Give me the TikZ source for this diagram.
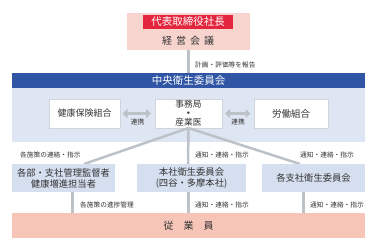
\documentclass[tikz,border=0pt]{standalone}
\usepackage{fontspec}
\setmainfont{Noto Sans CJK JP}
\usetikzlibrary{arrows.meta,calc}
\definecolor{pinkbox}{HTML}{F8D4CF}
\definecolor{redband}{HTML}{E3263D}
\definecolor{bluebar}{HTML}{2F55A4}
\definecolor{lightblue}{HTML}{DFE6F3}
\definecolor{lowbox}{HTML}{D6DFEF}
\definecolor{empbar}{HTML}{F6C5B8}
\definecolor{linegray}{HTML}{BDC1C8}
\definecolor{txt}{HTML}{333333}
\tikzset{
  box/.style={rectangle, inner sep=0pt, outer sep=0pt, text=txt, align=center},
  whitebox/.style={box, fill=white, draw=linegray!70, line width=0.5pt, minimum height=29pt},
  lowerbox/.style={box, fill=lowbox, minimum height=28pt, minimum width=103pt, font=\fontsize{9.3}{11}\selectfont},
  conn/.style={draw=linegray, line width=3pt},
  small/.style={text=txt, inner sep=0pt, font=\fontsize{6.7}{7}\selectfont, anchor=west},
  dblarrow/.style={draw=linegray, line width=3pt, {Triangle[width=9pt,length=5pt]}-{Triangle[width=9pt,length=5pt]}}
}
\begin{document}
\begin{tikzpicture}[x=1pt,y=-1pt]
\useasboundingbox (0,0) rectangle (378,250);
% top
\node[box, fill=pinkbox, minimum width=123pt, minimum height=37pt] (exec) at (188.5,31.5) {};
\node[box, fill=redband, minimum width=90pt, minimum height=14.5pt, text=white, font=\fontsize{10.5}{12}\selectfont] (pres) at (188,21.75) {代表取締役社長};
\node[box, font=\fontsize{10}{12}\selectfont] (keiei) at (188,41) {経\hspace{4pt}営\hspace{4pt}会\hspace{4pt}議};
% central committee
\node[box, fill=lightblue, minimum width=353pt, minimum height=54pt] (region) at (188.5,115) {};
\node[box, fill=bluebar, minimum width=353pt, minimum height=15pt, text=white, font=\fontsize{10.5}{12}\selectfont] (central) at (188.5,80.5) {中央衛生委員会};
\draw[conn] (exec.south -| 188,0) -- (central.north -| 188,0);
\node[small] (lblreport) at (195,65) {計画・評価等を報告};
% inner boxes
\node[whitebox, minimum width=71pt, font=\fontsize{9}{11}\selectfont] (kenpo) at (84.5,113.5) {健康保険組合};
\node[whitebox, minimum width=67pt, font=\fontsize{8.7}{9}\selectfont] (jimu) at (188.5,113.5) {事務局\\{\bfseries ・}\\産業医};
\node[whitebox, minimum width=74pt, font=\fontsize{9.5}{11}\selectfont] (roudou) at (291,113.5) {労働組合};
\draw[dblarrow, shorten <=2.5pt, shorten >=4pt] (kenpo.east) -- (jimu.west);
\draw[dblarrow, shorten <=3pt, shorten >=3.5pt] (jimu.east) -- (roudou.west);
\node[small, anchor=center] (rk1) at (137.5,122) {連携};
\node[small, anchor=center] (rk2) at (238,122) {連携};
% fan lines
\coordinate (fl) at (84,164);
\coordinate (fc) at (188,164);
\coordinate (fr) at (300,164);
\draw[draw=linegray, line width=2.5pt] (jimu.south) -- (fl);
\draw[draw=linegray, line width=2.5pt] (jimu.south) -- (fc);
\draw[draw=linegray, line width=2.5pt] (jimu.south) -- (fr);
\node[small] (l1) at (20,155) {各施策の連絡・指示};
\node[small] (l2) at (195,155) {通知・連絡・指示};
\node[small] (l3) at (300,155) {通知・連絡・指示};
% lower boxes
\node[lowerbox] (ll) at (63.5,178) {各部・支社管理監督者\\健康増進担当者};
\node[lowerbox, minimum width=109pt] (lc) at (191.5,178) {本社衛生委員会\\(四谷・多摩本社)};
\node[lowerbox] (lr) at (313.5,178) {各支社衛生委員会};
% employees
\node[box, fill=empbar, minimum width=353pt, minimum height=25pt, font=\fontsize{10}{12}\selectfont] (emp) at (188.5,225.5) {従\hspace{10pt}業\hspace{10pt}員};
\coordinate (bl) at (72,192);
\coordinate (bc) at (188,192);
\coordinate (br) at (303,192);
\draw[conn] (bl) -- (bl |- emp.north);
\draw[conn] (bc) -- (bc |- emp.north);
\draw[conn] (br) -- (br |- emp.north);
\node[small] (m1) at (80,205) {各施策の進捗管理};
\node[small] (m2) at (195,205) {通知・連絡・指示};
\node[small] (m3) at (310,205) {通知・連絡・指示};
\end{tikzpicture}
\end{document}
